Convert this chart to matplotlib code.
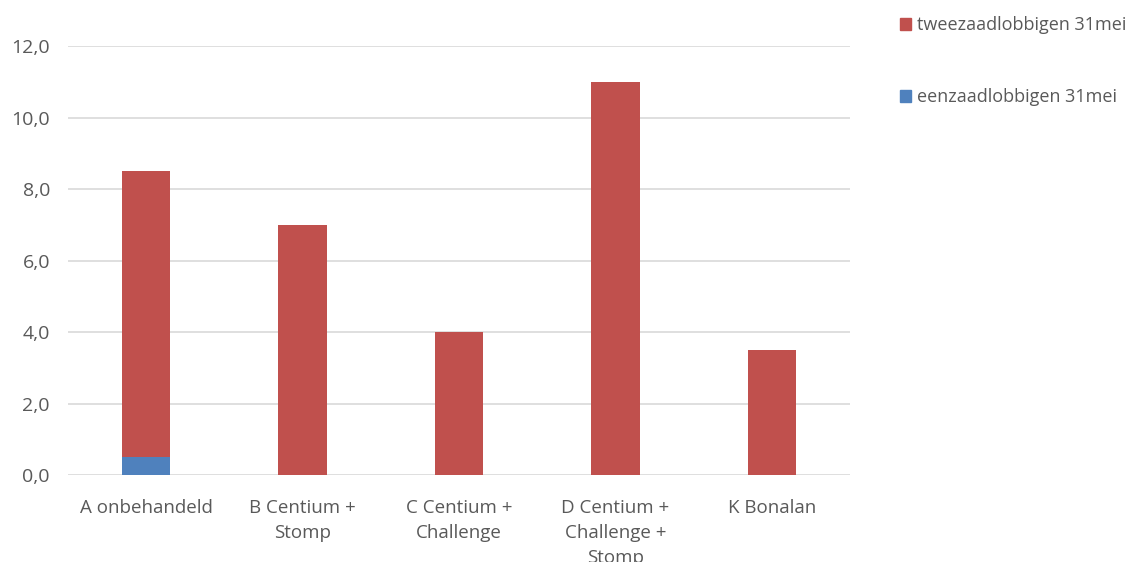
import numpy as np
from matplotlib import pyplot as plt
from matplotlib.patches import Patch

# categorieën en waarden
categorieen = ["A onbehandeld", "B Centium +\nStomp", "C Centium +\nChallenge",
               "D Centium +\nChallenge +\nStomp", "K Bonalan"]
eenzaadlobbigen = [0.5, 0.0, 0.0, 0.0, 0.0]
tweezaadlobbigen = [8.0, 7.0, 4.0, 11.0, 3.5]

rood = "#C0504D"
blauw = "#4F81BD"
grijs = "#595959"

plt.rcParams['font.family'] = ['Open Sans', 'DejaVu Sans']

fig = plt.figure(figsize=(11.35, 5.62), dpi=100)
ax = fig.add_axes([0.0599, 0.1548, 0.6891, 0.7633])

x = np.arange(len(categorieen))
breedte = 0.31
ax.bar(x, eenzaadlobbigen, breedte, color=blauw, zorder=3)
ax.bar(x, tweezaadlobbigen, breedte, bottom=eenzaadlobbigen, color=rood, zorder=3)

ax.set_xlim(-0.5, len(categorieen) - 0.5)
ax.set_ylim(0, 12)
ax.set_yticks(np.arange(0, 13, 2))
ax.set_yticklabels([f"{v:.1f}".replace(".", ",") for v in np.arange(0, 13, 2)])
ax.set_xticks(x)
ax.set_xticklabels(categorieen, linespacing=1.5)
ax.tick_params(axis='both', length=0, labelsize=13.5, colors=grijs)
ax.tick_params(axis='x', pad=17)
ax.tick_params(axis='y', pad=13, labelsize=14)
ax.grid(axis='y', color="#D9D9D9", linewidth=1.2, zorder=0)
for s in ax.spines.values():
  s.set_visible(False)

handles = [Patch(color=rood), Patch(color=blauw)]
fig.legend(handles, ["tweezaadlobbigen 31mei", "eenzaadlobbigen 31mei"],
           loc="upper left", bbox_to_anchor=(0.779, 1.0), frameon=False,
           fontsize=13, labelcolor=grijs, handlelength=0.6, handleheight=0.6,
           handletextpad=0.3, labelspacing=3.0)

plt.savefig("out.png", dpi=100)
